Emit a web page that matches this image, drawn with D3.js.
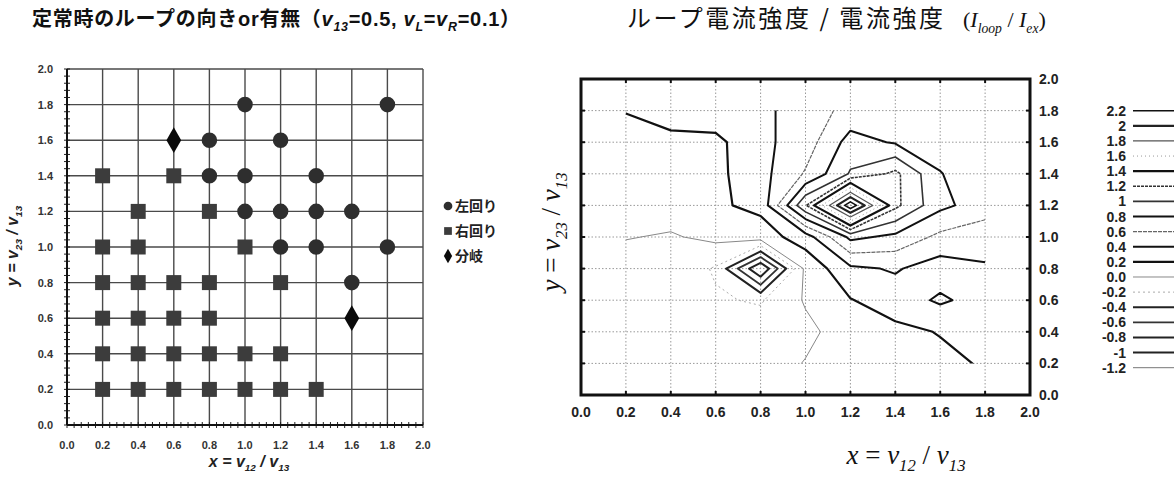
<!DOCTYPE html>
<html>
<head>
<meta charset="utf-8">
<script src="https://cdn.jsdelivr.net/npm/d3@7"></script>
<style>
  body { margin: 0; background: #fff; }
  svg { display: block; font-family: "Liberation Sans", Arial, sans-serif; }
</style>
</head>
<body>
<svg id="chart" width="1174" height="477"></svg>
<script>
// ---- left chart: loop direction at each (x, y) ----
const leftTurn = [[1.0,1.8],[1.8,1.8],[0.8,1.6],[1.2,1.6],[0.8,1.4],[1.0,1.4],[1.4,1.4],
  [1.0,1.2],[1.2,1.2],[1.4,1.2],[1.6,1.2],[1.2,1.0],[1.4,1.0],[1.8,1.0],[1.6,0.8]];
const rightTurn = [[0.2,1.4],[0.6,1.4],[0.4,1.2],[0.8,1.2],[0.2,1.0],[0.4,1.0],[1.0,1.0],
  [0.2,0.8],[0.4,0.8],[0.6,0.8],[0.8,0.8],[1.2,0.8],
  [0.2,0.6],[0.4,0.6],[0.6,0.6],[0.8,0.6],
  [0.2,0.4],[0.4,0.4],[0.6,0.4],[0.8,0.4],[1.0,0.4],[1.2,0.4],
  [0.2,0.2],[0.4,0.2],[0.6,0.2],[0.8,0.2],[1.0,0.2],[1.2,0.2],[1.4,0.2]];
const branch = [[0.6,1.6],[1.6,0.6]];
const legendNames = ["左回り", "右回り", "分岐"];
const axisTicks = [0, 0.2, 0.4, 0.6, 0.8, 1.0, 1.2, 1.4, 1.6, 1.8, 2.0];

// ---- right chart: I_loop / I_ex on the grid ----
const gridX = [0.2, 0.4, 0.6, 0.8, 1.0, 1.2, 1.4, 1.6, 1.8];
const gridY = [1.8, 1.6, 1.4, 1.2, 1.0, 0.8, 0.6, 0.4, 0.2];
const ratio = [
  [0.21, 0.30, 0.32, 0.35, 0.50, 0.66, 0.70, 0.70, 0.70],
  [0.10, 0.14, 0.15, 0.35, 0.50, 0.88, 0.78, 0.70, 0.65],
  [0.10, 0.12, 0.15, 0.33, 0.62, 1.02, 1.25, 0.81, 0.65],
  [0.12, 0.10, 0.17, 0.25, 1.18, 2.35, 1.25, 0.85, 0.70],
  [0.01, -0.02, 0.05, 0.10, 0.30, 0.85, 0.75, 0.55, 0.48],
  [-0.10, -0.08, -0.22, -1.00, 0.05, 0.36, 0.42, 0.30, 0.38],
  [-0.08, -0.10, -0.18, -0.22, 0.02, 0.19, 0.30, 0.43, 0.32],
  [-0.06, -0.08, -0.10, -0.10, -0.05, 0.10, 0.15, 0.21, 0.28],
  [-0.05, -0.06, -0.08, -0.10, 0.01, 0.08, 0.10, 0.15, 0.22]
];
const levels = [2.2, 2, 1.8, 1.6, 1.4, 1.2, 1, 0.8, 0.6, 0.4, 0.2, 0.0, -0.2, -0.4, -0.6, -0.8, -1, -1.2];
const levelLabels = ["2.2","2","1.8","1.6","1.4","1.2","1","0.8","0.6","0.4","0.2","0.0","-0.2","-0.4","-0.6","-0.8","-1","-1.2"];

// line look per level [width, colour, dash]
const lineStyles = [
  [1.6,"#111",null],[2.2,"#222",null],[1.2,"#555",null],[1,"#999","1,3"],[2.2,"#111",null],
  [1.6,"#333","3,1"],[1.6,"#333",null],[2,"#111",null],[1.2,"#666","4,1"],[2,"#111",null],
  [2.2,"#111",null],[1,"#888",null],[1,"#aaa","2,3"],[2,"#222",null],[1.8,"#333",null],
  [2,"#222",null],[2,"#222",null],[1,"#777",null]
];

const jp = '"Noto Sans CJK JP", sans-serif';
const svg = d3.select('#chart');
const fmt = d3.format('.1f');

// text with italic / subscript pieces
function rich(sel, parts, size) {
  let down = false;
  parts.forEach(([t, f]) => {
    f = f || '';
    const sub = f.includes('s');
    const ts = sel.append('tspan').text(t);
    if (f.includes('i')) ts.attr('font-style', 'italic');
    if (f.includes('j')) ts.attr('font-family', jp);
    if (sub !== down) { ts.attr('dy', sub ? size * 0.25 : -size * 0.25); down = sub; }
    if (sub) ts.attr('font-size', size * 0.62);
  });
}

// =================== left chart ===================
const xL = d3.scaleLinear([0, 2], [67, 423]);
const yL = d3.scaleLinear([0, 2], [425, 69]);
const gL = svg.append('g');

gL.selectAll('.vg').data(axisTicks).enter().append('line')
  .attr('x1', d => xL(d)).attr('x2', d => xL(d)).attr('y1', yL(0)).attr('y2', yL(2))
  .attr('stroke', '#4a4a4a').attr('stroke-width', 1.4);
gL.selectAll('.hg').data(axisTicks).enter().append('line')
  .attr('y1', d => yL(d)).attr('y2', d => yL(d)).attr('x1', xL(0)).attr('x2', xL(2))
  .attr('stroke', '#4a4a4a').attr('stroke-width', 1.4);

const minor = d3.range(0, 2.001, 0.04);
gL.selectAll('.mx').data(minor).enter().append('line')
  .attr('x1', d => xL(d)).attr('x2', d => xL(d)).attr('y1', yL(0) - 3).attr('y2', yL(0) + 3)
  .attr('stroke', '#222').attr('stroke-width', 1);
gL.selectAll('.my').data(minor).enter().append('line')
  .attr('y1', d => yL(d)).attr('y2', d => yL(d)).attr('x1', xL(0) - 3).attr('x2', xL(0) + 3)
  .attr('stroke', '#222').attr('stroke-width', 1);
gL.append('line').attr('x1', xL(0)).attr('x2', xL(2)).attr('y1', yL(0)).attr('y2', yL(0))
  .attr('stroke', '#111').attr('stroke-width', 2);
gL.append('line').attr('x1', xL(0)).attr('x2', xL(0)).attr('y1', yL(0)).attr('y2', yL(2))
  .attr('stroke', '#111').attr('stroke-width', 2);

gL.selectAll('.xt').data(axisTicks).enter().append('text')
  .attr('x', d => xL(d)).attr('y', 449).attr('text-anchor', 'middle')
  .attr('font-size', 11).attr('font-weight', 'bold').attr('fill', '#333').text(fmt);
gL.selectAll('.yt').data(axisTicks).enter().append('text')
  .attr('x', 53).attr('y', d => yL(d) + 4).attr('text-anchor', 'end')
  .attr('font-size', 11).attr('font-weight', 'bold').attr('fill', '#333').text(fmt);

const sym = {
  circle: d3.symbol(d3.symbolCircle, 190),
  square: d3.symbol(d3.symbolSquare, 225),
  diamond: d3.symbol(d3.symbolDiamond, 190)
};
gL.selectAll('.lt').data(leftTurn).enter().append('path')
  .attr('transform', d => `translate(${xL(d[0])},${yL(d[1])})`)
  .attr('d', sym.circle()).attr('fill', '#2e2e2e');
gL.selectAll('.rt').data(rightTurn).enter().append('path')
  .attr('transform', d => `translate(${xL(d[0])},${yL(d[1])})`)
  .attr('d', sym.square()).attr('fill', '#3c3c3c');
gL.selectAll('.br').data(branch).enter().append('path')
  .attr('transform', d => `translate(${xL(d[0])},${yL(d[1])})`)
  .attr('d', sym.diamond()).attr('fill', '#0a0a0a');

const legSyms = [d3.symbol(d3.symbolCircle, 60), d3.symbol(d3.symbolSquare, 60), d3.symbol(d3.symbolDiamond, 60)];
const legFill = ['#2e2e2e', '#3c3c3c', '#0a0a0a'];
legendNames.forEach((name, i) => {
  const yy = 206 + i * 25;
  gL.append('path').attr('transform', `translate(448,${yy})`).attr('d', legSyms[i]()).attr('fill', legFill[i]);
  gL.append('text').attr('x', 455).attr('y', yy + 5).attr('font-family', jp)
    .attr('font-size', 14).attr('font-weight', 'bold').attr('fill', '#222').text(name);
});

const tL = gL.append('text').attr('x', 32).attr('y', 26).attr('font-size', 20)
  .attr('font-weight', 'bold').attr('fill', '#111')
  .attr('textLength', 488).attr('lengthAdjust', 'spacing');
rich(tL, [['定常時のループの向き','j'],['or'],['有無（','j'],['v','i'],['13','is'],['=0.5, '],
  ['v','i'],['L','is'],['='],['v','i'],['R','is'],['=0.1'],['）','j']], 20);

const xlabL = gL.append('text').attr('x', 249).attr('y', 467).attr('text-anchor', 'middle')
  .attr('font-size', 16).attr('font-weight', 'bold').attr('font-style', 'italic').attr('fill', '#222');
rich(xlabL, [['x = v','i'],['12','is'],[' / v','i'],['13','is']], 16);
const ylabL = gL.append('text').attr('transform', 'translate(18,246) rotate(-90)').attr('text-anchor', 'middle')
  .attr('font-size', 16).attr('font-weight', 'bold').attr('font-style', 'italic').attr('fill', '#222');
rich(ylabL, [['y = v','i'],['23','is'],[' / v','i'],['13','is']], 16);

// =================== right chart ===================
const xR = d3.scaleLinear([0, 2], [581, 1030]);
const yR = d3.scaleLinear([0, 2], [395, 79]);
const gR = svg.append('g');

gR.selectAll('.vg').data(axisTicks).enter().append('line')
  .attr('x1', d => xR(d)).attr('x2', d => xR(d)).attr('y1', yR(0)).attr('y2', yR(2))
  .attr('stroke', '#999').attr('stroke-width', 1).attr('stroke-dasharray', '1.5,2');
gR.selectAll('.hg').data(axisTicks).enter().append('line')
  .attr('y1', d => yR(d)).attr('y2', d => yR(d)).attr('x1', xR(0)).attr('x2', xR(2))
  .attr('stroke', '#999').attr('stroke-width', 1).attr('stroke-dasharray', '1.5,2');

// contours
const nx = gridX.length, ny = gridY.length;
const contours = d3.contours().size([nx, ny]).thresholds(levels)(ratio.flat());
const gx = d3.scaleLinear([0.5, nx - 0.5], [gridX[0], gridX[nx - 1]]);
const gy = d3.scaleLinear([0.5, ny - 0.5], [gridY[0], gridY[ny - 1]]);
const proj = d3.geoTransform({ point(px, py) { this.stream.point(xR(gx(px)), yR(gy(py))); } });
const cpath = d3.geoPath(proj);

gR.append('clipPath').attr('id', 'dataclip').append('rect')
  .attr('x', xR(gridX[0])).attr('y', yR(gridY[0]))
  .attr('width', xR(gridX[nx - 1]) - xR(gridX[0])).attr('height', yR(gridY[ny - 1]) - yR(gridY[0]));

gR.append('g').attr('clip-path', 'url(#dataclip)')
  .selectAll('path').data(contours).enter().append('path')
  .attr('d', cpath).attr('fill', 'none')
  .attr('stroke', d => lineStyles[levels.indexOf(d.value)][1])
  .attr('stroke-width', d => lineStyles[levels.indexOf(d.value)][0])
  .attr('stroke-dasharray', d => lineStyles[levels.indexOf(d.value)][2])
  .attr('stroke-linejoin', 'round');

// frame and ticks
gR.append('rect').attr('x', xR(0)).attr('y', yR(2)).attr('width', xR(2) - xR(0)).attr('height', yR(0) - yR(2))
  .attr('fill', 'none').attr('stroke', '#111').attr('stroke-width', 3);
gR.selectAll('.tb').data(axisTicks).enter().append('line')
  .attr('x1', d => xR(d)).attr('x2', d => xR(d)).attr('y1', yR(0)).attr('y2', yR(0) - 4)
  .attr('stroke', '#111').attr('stroke-width', 2);
gR.selectAll('.tt').data(axisTicks).enter().append('line')
  .attr('x1', d => xR(d)).attr('x2', d => xR(d)).attr('y1', yR(2)).attr('y2', yR(2) + 4)
  .attr('stroke', '#111').attr('stroke-width', 2);
gR.selectAll('.tl').data(axisTicks).enter().append('line')
  .attr('y1', d => yR(d)).attr('y2', d => yR(d)).attr('x1', xR(0)).attr('x2', xR(0) + 4)
  .attr('stroke', '#111').attr('stroke-width', 2);
gR.selectAll('.tr').data(axisTicks).enter().append('line')
  .attr('y1', d => yR(d)).attr('y2', d => yR(d)).attr('x1', xR(2)).attr('x2', xR(2) - 4)
  .attr('stroke', '#111').attr('stroke-width', 2);

gR.selectAll('.xt').data(axisTicks).enter().append('text')
  .attr('x', d => xR(d)).attr('y', 417).attr('text-anchor', 'middle')
  .attr('font-size', 14).attr('font-weight', 'bold').attr('fill', '#222').text(fmt);
gR.selectAll('.yt').data(axisTicks).enter().append('text')
  .attr('x', 1039).attr('y', d => yR(d) + 5)
  .attr('font-size', 14).attr('font-weight', 'bold').attr('fill', '#222').text(fmt);

// level legend
const legY = d3.scalePoint(levelLabels, [110.7, 367.7]);
levelLabels.forEach((lab, i) => {
  const st = lineStyles[i];
  gR.append('text').attr('x', 1126).attr('y', legY(lab) + 5).attr('text-anchor', 'end')
    .attr('font-size', 14).attr('font-weight', 'bold').attr('fill', '#222').text(lab);
  gR.append('line').attr('x1', 1133).attr('x2', 1180).attr('y1', legY(lab)).attr('y2', legY(lab))
    .attr('stroke', st[1]).attr('stroke-width', st[0]).attr('stroke-dasharray', st[2]);
});

gR.append('text').attr('x', 627).attr('y', 27).attr('font-family', jp).attr('font-size', 24)
  .attr('fill', '#111').attr('textLength', 316).attr('lengthAdjust', 'spacing').text('ループ電流強度 / 電流強度');
const tR = gR.append('text').attr('x', 963).attr('y', 27).attr('font-family', '"Liberation Serif", serif')
  .attr('font-size', 22).attr('fill', '#111');
rich(tR, [['('],['I','i'],['loop','is'],[' / '],['I','i'],['ex','is'],[')']], 22);

const xlabR = gR.append('text').attr('x', 906).attr('y', 464).attr('text-anchor', 'middle')
  .attr('font-family', '"Liberation Serif", serif').attr('font-size', 27).attr('fill', '#111');
rich(xlabR, [['x','i'],[' = '],['v','i'],['12','is'],[' / '],['v','i'],['13','is']], 27);
const ylabR = gR.append('text').attr('transform', 'translate(560,232) rotate(-90)').attr('text-anchor', 'middle')
  .attr('font-family', '"Liberation Serif", serif').attr('font-size', 27).attr('fill', '#111');
rich(ylabR, [['y','i'],[' = '],['v','i'],['23','is'],[' / '],['v','i'],['13','is']], 27);
</script>
</body>
</html>
